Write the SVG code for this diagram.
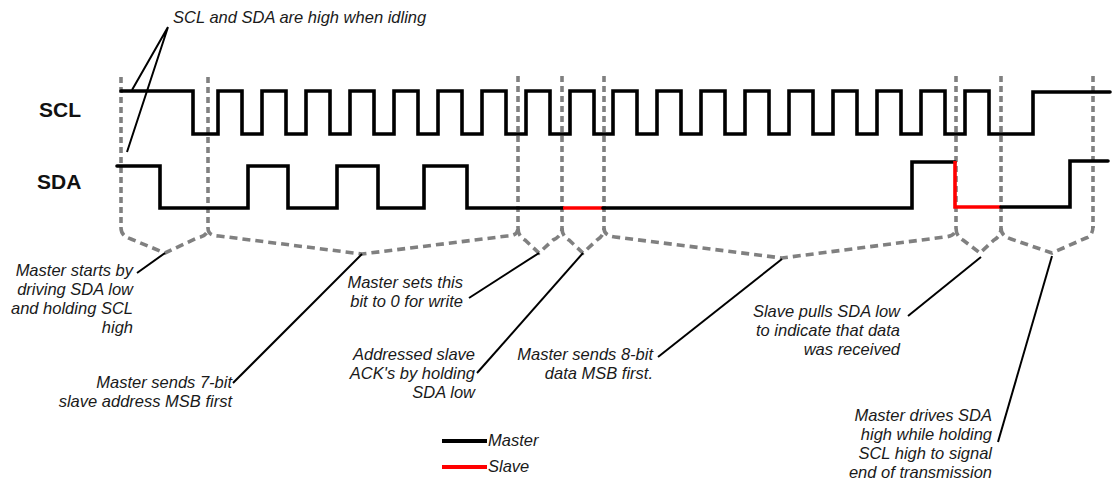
<svg xmlns="http://www.w3.org/2000/svg" width="1116" height="483" viewBox="0 0 1116 483">
<style>
.sig{fill:none;stroke:#000;stroke-width:3.6;stroke-linejoin:miter;stroke-linecap:round}
.slave{fill:none;stroke:#ff0000;stroke-width:3.6;stroke-linecap:butt}
.vdash{fill:none;stroke:#808080;stroke-width:3.6;stroke-dasharray:6 4}
.brace{fill:none;stroke:#808080;stroke-width:3.6;stroke-dasharray:8 5}
.lead{fill:none;stroke:#000;stroke-width:2}
.lbl{font-family:"Liberation Sans",Arial,sans-serif;font-weight:bold;font-size:21px;fill:#111}
.note{font-family:"Liberation Sans",Arial,sans-serif;font-style:italic;font-size:16.5px;fill:#1a1a1a}
.r{text-anchor:end}
</style>
<rect width="1116" height="483" fill="#fff"/>

<g id="signal-labels">
<text class="lbl" x="39" y="117">SCL</text>
<text class="lbl" x="37" y="189">SDA</text>
</g>

<g id="markers">
<path class="vdash" d="M121,77V228M208,77V228M518,76V228M562,76V228M604,76V228M956,76V228M1001,76V228M1093,76V228"/>
</g>

<g id="braces">
<path class="brace" d="M121,228Q121,236 131,239L165,253L197,238Q208,236 208,228"/>
<path class="brace" d="M208,228Q208,236 219,236L362,254L507,236Q518,236 518,228"/>
<path class="brace" d="M518,228Q518,236 525,240L539,253L553,240Q562,236 562,228"/>
<path class="brace" d="M562,228Q562,236 569,240L583,253L597,240Q604,236 604,228"/>
<path class="brace" d="M604,228Q604,236 615,237L782,258L945,237Q956,236 956,228"/>
<path class="brace" d="M956,228Q956,236 963,240L980,253L994,240Q1001,236 1001,228"/>
<path class="brace" d="M1001,228Q1001,236 1011,239L1052,253L1086,238Q1093,236 1093,226"/>
</g>

<g id="scl">
<path class="sig" d="M121,91H193V134H218V91H242V134H262V91H286V134H306V91H330V134H350V91H374V134H394V91H418V134H438V91H462V134H482V91H506V134H526V91H550V134H570V91H594V134H613V91H637V134H657V91H681V134H701V91H725V134H745V91H769V134H789V91H813V134H833V91H857V134H877V91H901V134H921V91H945V134H965V91H989V134H1033V92H1110"/>
</g>

<g id="sda">
<path class="sig" d="M117,166H160V208H248V166H288V208H337V166H378V208H424V166H467V208H563"/>
<path class="slave" d="M563,208H603"/>
<path class="sig" d="M603,208H912V162H955"/>
<path class="slave" d="M955,161V207H1001"/>
<path class="sig" d="M1001,207H1070V161H1108"/>
</g>

<g id="connectors">
<path class="lead" d="M168,27L132,90M168,27L127,152"/>
<path class="lead" d="M165,253L137,273"/>
<path class="lead" d="M362,254L233,383"/>
<path class="lead" d="M539,253L469,298"/>
<path class="lead" d="M583,253L477,373"/>
<path class="lead" d="M782,259L658,357"/>
<path class="lead" d="M981,257L908,316"/>
<path class="lead" d="M1052,256L998,442"/>
</g>

<g id="note-idle">
<text class="note" x="173" y="23">SCL and SDA are high when idling</text>
</g>
<g id="note-start">
<text class="note r" x="133" y="276">Master starts by</text>
<text class="note r" x="133" y="295">driving SDA low</text>
<text class="note r" x="133" y="314">and holding SCL</text>
<text class="note r" x="133" y="333">high</text>
</g>
<g id="note-address">
<text class="note r" x="232" y="388">Master sends 7-bit</text>
<text class="note r" x="232" y="407">slave address MSB first</text>
</g>
<g id="note-rw">
<text class="note r" x="463" y="288">Master sets this</text>
<text class="note r" x="463" y="307">bit to 0 for write</text>
</g>
<g id="note-ack">
<text class="note r" x="475" y="360">Addressed slave</text>
<text class="note r" x="475" y="379">ACK's by holding</text>
<text class="note r" x="475" y="398">SDA low</text>
</g>
<g id="note-data">
<text class="note r" x="653" y="360">Master sends 8-bit</text>
<text class="note r" x="653" y="379">data MSB first.</text>
</g>
<g id="note-slave-ack">
<text class="note r" x="900" y="317">Slave pulls SDA low</text>
<text class="note r" x="900" y="336">to indicate that data</text>
<text class="note r" x="900" y="355">was received</text>
</g>
<g id="note-stop">
<text class="note r" x="992" y="421">Master drives SDA</text>
<text class="note r" x="992" y="440">high while holding</text>
<text class="note r" x="992" y="459">SCL high to signal</text>
<text class="note r" x="992" y="478">end of transmission</text>
</g>

<g id="legend">
<line x1="442" y1="441" x2="487" y2="441" stroke="#000" stroke-width="4"/>
<text class="note" x="488" y="446">Master</text>
<line x1="442" y1="467" x2="487" y2="467" stroke="#ff0000" stroke-width="4"/>
<text class="note" x="488" y="472">Slave</text>
</g>
</svg>
